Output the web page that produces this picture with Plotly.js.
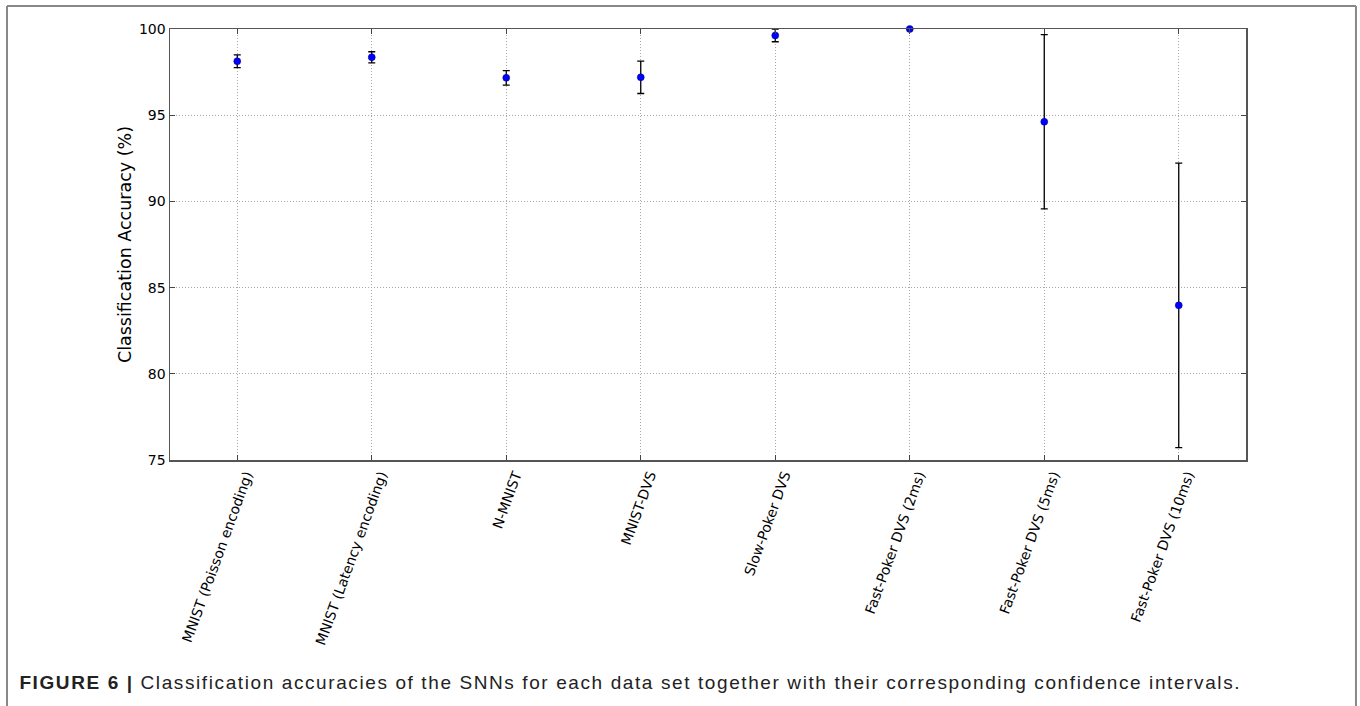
<!DOCTYPE html>
<html>
<head>
<meta charset="utf-8">
<script src="https://cdn.plot.ly/plotly-3.0.1.min.js"></script>
<style>
html,body{margin:0;padding:0;background:#fff;}
#chart{width:1360px;height:706px;}
#chart .annotation-text{letter-spacing:1.6px;}
</style>
</head>
<body>
<div id="chart"></div>
<script>
const categories = [
  "MNIST (Poisson encoding)",
  "MNIST (Latency encoding)",
  "N-MNIST",
  "MNIST-DVS",
  "Slow-Poker DVS",
  "Fast-Poker DVS (2ms)",
  "Fast-Poker DVS (5ms)",
  "Fast-Poker DVS (10ms)"
];
const accuracy = [98.13, 98.36, 97.17, 97.2, 99.63, 100.0, 94.62, 83.97];
const confidence = [0.37, 0.32, 0.42, 0.94, 0.37, 0.0, 5.05, 8.25];
const yTicks = [75, 80, 85, 90, 95, 100];
const captionBold = "FIGURE 6 |";
const captionText = " Classification accuracies of the SNNs for each data set together with their corresponding confidence intervals.";

const idx = categories.map((c, i) => i);

const trace = {
  type: "scatter",
  mode: "markers",
  x: idx,
  y: accuracy,
  error_y: {type: "data", array: confidence, visible: true, color: "#000", thickness: 1.3, width: 3.5},
  marker: {color: "#0000ff", size: 7, line: {color: "#000080", width: 0.5}},
  cliponaxis: false,
  hoverinfo: "x+y"
};

const layout = {
  width: 1360, height: 706,
  margin: {l: 170, r: 114, t: 29, b: 246},
  paper_bgcolor: "#fff", plot_bgcolor: "#fff",
  showlegend: false,
  font: {family: "DejaVu Sans", color: "#000", size: 14},
  xaxis: {
    range: [-0.5, 7.5],
    tickmode: "array", tickvals: idx, ticktext: categories,
    tickangle: -70,
    ticklabelshift: 9,
    ticks: "inside", ticklen: 5, tickcolor: "#444",
    showline: true, linecolor: "#555", linewidth: 1.5, mirror: "ticks",
    showgrid: true, gridcolor: "#a8a8a8", griddash: "1px,2px", gridwidth: 1,
    zeroline: false,
    tickfont: {family: "DejaVu Sans", size: 14, color: "#000"}
  },
  yaxis: {
    range: [75, 100],
    tickmode: "array", tickvals: yTicks,
    ticks: "inside", ticklen: 5, tickcolor: "#444",
    showline: true, linecolor: "#555", linewidth: 1.5, mirror: "ticks",
    showgrid: true, gridcolor: "#a8a8a8", griddash: "1px,2px", gridwidth: 1,
    zeroline: false,
    tickfont: {family: "DejaVu Sans", size: 14, color: "#000"},
    title: {text: "Classification Accuracy (%)", font: {family: "DejaVu Sans", size: 17.5, color: "#000"}, standoff: 3}
  },
  shapes: [
    {type: "line", xref: "paper", yref: "paper", x0: -0.1515, x1: 1.1022, y0: 1.0534, y1: 1.0534, line: {color: "#888", width: 2}},
    {type: "line", xref: "paper", yref: "paper", x0: -0.1515, x1: -0.1515, y0: 1.0534, y1: -0.62, line: {color: "#888", width: 2}},
    {type: "line", xref: "paper", yref: "paper", x0: 1.1022, x1: 1.1022, y0: 1.0534, y1: -0.62, line: {color: "#888", width: 2}}
  ],
  annotations: [
    {
      xref: "paper", yref: "paper", x: 0.4284, y: -0.517,
      xanchor: "center", yanchor: "middle", showarrow: false,
      text: "<b>" + captionBold + "</b>" + captionText,
      font: {family: "Liberation Sans, Arial", size: 19, color: "#222"}
    }
  ]
};

Plotly.newPlot("chart", [trace], layout, {displayModeBar: false, staticPlot: true});
</script>
</body>
</html>
